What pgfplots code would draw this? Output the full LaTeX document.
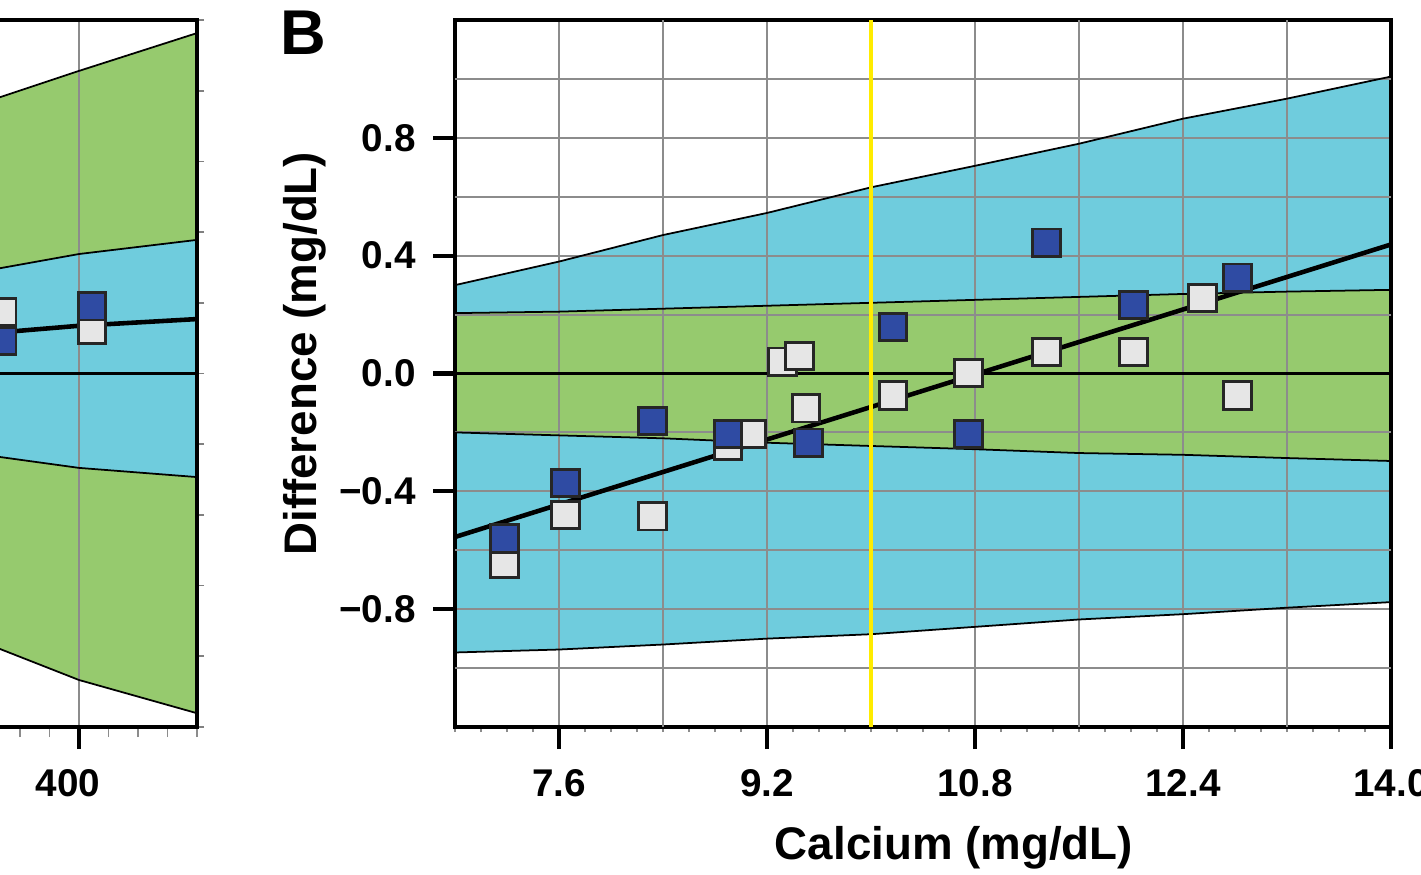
\documentclass[border=0pt]{standalone}
\usepackage{fontspec}
\setmainfont{Liberation Sans}
\usepackage{pgfplots}
\usepackage{pgfplotstable}
\pgfplotsset{compat=1.18}
\usepgfplotslibrary{fillbetween}

\definecolor{bandcyan}{RGB}{111,204,221}
\definecolor{bandgreen}{RGB}{150,202,110}
\definecolor{gridgray}{RGB}{140,140,140}
\definecolor{gridteal}{RGB}{28,138,140}
\definecolor{ptblue}{RGB}{47,75,163}
\definecolor{ptgray}{RGB}{230,230,230}
\definecolor{refyellow}{RGB}{255,236,0}

% panel B limits: x, upper cyan, upper green, lower green, lower cyan
\pgfplotstableread{
x     uc     ug     lg      lc
6.8   0.300  0.205  -0.200  -0.947
7.6   0.380  0.210  -0.210  -0.937
8.4   0.470  0.220  -0.220  -0.920
9.2   0.545  0.230  -0.235  -0.900
10.0  0.632  0.240  -0.246  -0.885
10.8  0.705  0.250  -0.257  -0.860
11.6  0.780  0.260  -0.270  -0.835
12.4  0.865  0.270  -0.276  -0.817
13.2  0.933  0.278  -0.287  -0.795
14.0  1.008  0.284  -0.297  -0.776
}\bandsB

% outline of the outer (cyan) band of panel B, upper edge then lower edge back
\pgfplotstableread{
x     y
6.8   0.300
7.6   0.380
8.4   0.470
9.2   0.545
10.0  0.632
10.8  0.705
11.6  0.780
12.4  0.865
13.2  0.933
14.0  1.008
14.0  -0.776
13.2  -0.795
12.4  -0.817
11.6  -0.835
10.8  -0.860
10.0  -0.885
9.2   -0.900
8.4   -0.920
7.6   -0.937
6.8   -0.947
}\cyanB

% panel A limits (only the right end is visible)
\pgfplotstableread{
x    ug     uc    reg   lc     lg
300  7.45   2.78  1.07  -2.21  -7.36
400  8.56   3.38  1.35  -2.67  -8.67
500  9.63   3.78  1.54  -2.93  -9.61
}\bandsA

\newcommand\tealline[4]{%
  \pgfpathmoveto{\pgfplotspointaxisxy{#1}{#2}}%
  \pgfpathlineto{\pgfplotspointaxisxy{#3}{#4}}%
  \pgfusepath{stroke}}

\pgfplotsset{
  layers/mylayers/.define layer set={axis background,axis grid,pre main,main,
    axis ticks,axis lines,axis tick labels,axis descriptions,axis foreground}{},
  panel/.style={
    set layers=mylayers,
    scale only axis,
    anchor=south west,
    height=7.07cm,
    tick align=outside,
    axis line style={line width=1.2pt},
    major tick style={line width=1.2pt, black},
    minor tick style={line width=0.4pt, black!45},
    major tick length=0.22cm,
    minor tick length=0.05cm,
    grid style={gridgray, line width=0.6pt},
    tick label style={font=\fontsize{11}{13}\selectfont\bfseries},
    xticklabel style={yshift=-0.08cm},
  },
  sq/.style={only marks, mark=square*, mark size=3.9pt,
    mark options={fill=#1, draw=black!85, line width=0.8pt}},
}

\begin{document}
\begin{tikzpicture}

% ---- panel A (cut off at the left) ----
\begin{axis}[panel,
  at={(-0.39cm,1.47cm)}, width=2.36cm,
  xmin=300, xmax=500, ymin=-10, ymax=10,
  xtick={400}, xticklabels={400},
  xticklabel style={xshift=-0.11cm},
  minor xtick={300,325,...,500},
  minor tick length=0.1cm,
  xtick pos=bottom,
  xmajorgrids,
  ytick={-10,-8,...,10}, yticklabels={},
  ytick pos=right,
  ytick style={/pgfplots/major tick length=0.07cm, line width=0.5pt, black!50},
]
\addplot[black, line width=0.5pt, name path=aug] table[x=x,y=ug]{\bandsA};
\addplot[black, line width=0.5pt, name path=auc] table[x=x,y=uc]{\bandsA};
\addplot[black, line width=0.5pt, name path=alc] table[x=x,y=lc]{\bandsA};
\addplot[black, line width=0.5pt, name path=alg] table[x=x,y=lg]{\bandsA};
\addplot[fill=bandgreen, draw=none] fill between[of=aug and alg];
\addplot[fill=bandcyan, draw=none] fill between[of=auc and alc];
\addplot[black, line width=0.6pt] coordinates {(300,0) (500,0)};
\addplot[black, line width=1.3pt] table[x=x,y=reg]{\bandsA};
\addplot[sq=ptgray] coordinates {(335,1.74) (411,1.24)};
\addplot[sq=ptblue] coordinates {(335,0.92) (411,1.90)};
\end{axis}

% ---- panel B ----
\begin{axis}[panel,
  at={(4.55cm,1.47cm)}, width=9.36cm,
  xmin=6.8, xmax=14.0, ymin=-1.2, ymax=1.2,
  xtick={7.6,9.2,10.8,12.4,14.0},
  xticklabels={7.6,9.2,10.8,12.4,14.0},
  extra x ticks={8.4,10.0,11.6,13.2}, extra x tick labels={},
  extra x tick style={major tick length=0pt, grid=major},
  minor xtick={6.8,7.0,...,14.0},
  ytick={-0.8,-0.4,0,0.4,0.8},
  yticklabels={−0.8,−0.4,0.0,0.4,0.8},
  yticklabel style={xshift=-0.05cm},
  extra y ticks={-1.0,-0.6,-0.2,0.2,0.6,1.0}, extra y tick labels={},
  extra y tick style={major tick length=0pt, grid=major},
  grid=major,
  xtick pos=bottom, ytick pos=left,
  xlabel={Calcium (mg/dL)},
  ylabel={Difference (mg/dL)},
  every axis x label/.style={at={(axis description cs:0.533,-0.171)}, anchor=center,
    font=\fontsize{13}{15}\selectfont\bfseries},
  every axis y label/.style={at={(axis description cs:-0.160,0.528)}, rotate=90, anchor=center,
    font=\fontsize{13}{15}\selectfont\bfseries},
]
\addplot[on layer=pre main, fill=bandcyan, draw=none, path picture={%
    \pgfsetstrokecolor{gridteal}\pgfsetlinewidth{0.6pt}%
    \tealline{7.6}{-1.2}{7.6}{1.2}\tealline{8.4}{-1.2}{8.4}{1.2}%
    \tealline{9.2}{-1.2}{9.2}{1.2}\tealline{10.0}{-1.2}{10.0}{1.2}%
    \tealline{10.8}{-1.2}{10.8}{1.2}\tealline{11.6}{-1.2}{11.6}{1.2}%
    \tealline{12.4}{-1.2}{12.4}{1.2}\tealline{13.2}{-1.2}{13.2}{1.2}%
    \tealline{6.8}{-1.0}{14.0}{-1.0}\tealline{6.8}{-0.8}{14.0}{-0.8}%
    \tealline{6.8}{-0.6}{14.0}{-0.6}\tealline{6.8}{-0.4}{14.0}{-0.4}%
    \tealline{6.8}{-0.2}{14.0}{-0.2}\tealline{6.8}{0.2}{14.0}{0.2}%
    \tealline{6.8}{0.4}{14.0}{0.4}\tealline{6.8}{0.6}{14.0}{0.6}%
    \tealline{6.8}{0.8}{14.0}{0.8}\tealline{6.8}{1.0}{14.0}{1.0}%
  }] table[x=x,y=y]{\cyanB} -- cycle;
\addplot[black, line width=0.5pt] table[x=x,y=uc]{\bandsB};
\addplot[black, line width=0.5pt, name path=ug] table[x=x,y=ug]{\bandsB};
\addplot[black, line width=0.5pt, name path=lg] table[x=x,y=lg]{\bandsB};
\addplot[black, line width=0.5pt] table[x=x,y=lc]{\bandsB};
\addplot[fill=bandgreen, draw=none] fill between[of=ug and lg];
\addplot[black, line width=0.6pt] coordinates {(6.8,0) (14.0,0)};
\addplot[black, line width=1.3pt] coordinates {(6.8,-0.555) (14.0,0.438)};
\addplot[refyellow, line width=1.2pt] coordinates {(10.0,-1.2) (10.0,1.2)};
\addplot[sq=ptgray] coordinates {
  (7.18,-0.646) (7.65,-0.48) (8.32,-0.485) (8.90,-0.245) (9.08,-0.206)
  (9.32,0.040) (9.45,0.060) (9.50,-0.118) (10.17,-0.075) (10.75,0.002)
  (11.35,0.073) (12.02,0.073) (12.55,0.256) (12.82,-0.075)
};
\addplot[sq=ptblue] coordinates {
  (7.18,-0.56) (7.65,-0.372) (8.32,-0.161) (8.90,-0.205) (9.52,-0.235)
  (10.17,0.158) (10.75,-0.205) (11.35,0.444) (12.02,0.232) (12.82,0.325)
};
\end{axis}

\node[font=\fontsize{18}{21}\selectfont\bfseries, anchor=base west] at (2.68cm,8.19cm) {B};

\pgfresetboundingbox
\path[use as bounding box] (0,0) rectangle (14.21cm,8.74cm);
\end{tikzpicture}
\end{document}
